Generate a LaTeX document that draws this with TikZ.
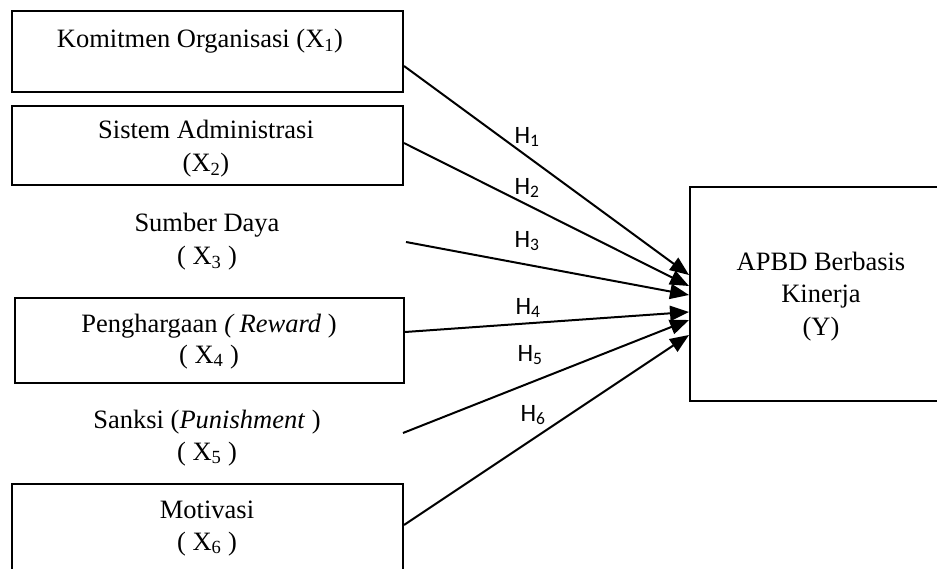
\documentclass[tikz,border=0pt]{standalone}
\usepackage{fontspec}
\setmainfont{Liberation Serif}
\newfontfamily\labfont{Carlito}
\usetikzlibrary{arrows.meta}
\begin{document}
\begin{tikzpicture}[x=1pt,y=-1pt,
  box/.style={draw,line width=2pt,rectangle,inner sep=0pt},
  txt/.style={font=\fontsize{26.5}{30}\selectfont,anchor=base,inner sep=0pt},
  hyp/.style={font=\labfont\fontsize{25}{28}\selectfont,inner sep=0pt},
  link/.style={line width=2pt,-{Triangle[length=19pt,width=15pt]}}]
\useasboundingbox (0,0) rectangle (937,569);
% boxes
\node[box,minimum width=391pt,minimum height=81pt] (b1) at (207.5,51.5) {};
\node[box,minimum width=391pt,minimum height=79pt] (b2) at (207.5,145.5) {};
\node[box,minimum width=389pt,minimum height=85pt] (b4) at (209.5,340.5) {};
\node[box,minimum width=391pt,minimum height=136pt] (b6) at (207.5,552) {};
\node[box,minimum width=270pt,minimum height=214pt] (Y) at (825,294) {};
% texts
\node[txt] (k1) at (200,48) {Komitmen Organisasi (X\textsubscript{1})};
\node[txt] (s1) at (206,139) {Sistem Administrasi};
\node[txt] (s2) at (206,172) {(X\textsubscript{2})};
\node[txt] (d1) at (207,232) {Sumber Daya};
\node[txt] (d2) at (207,265) {( X\textsubscript{3} )};
\node[txt] (p1) at (209,332) {Penghargaan \textit{( Reward} )};
\node[txt] (p2) at (209,363) {( X\textsubscript{4} )};
\node[txt] (n1) at (207,428) {Sanksi (\textit{Punishment} )};
\node[txt] (n2) at (207,460) {( X\textsubscript{5} )};
\node[txt] (m1) at (207,518) {Motivasi};
\node[txt] (m2) at (207,550) {( X\textsubscript{6} )};
\node[txt] (y1) at (821,271) {APBD Berbasis};
\node[txt] (y2) at (821,303) {Kinerja};
\node[txt] (y3) at (821,335) {(Y)};
% free start points
\coordinate (c3) at (406,242);
\coordinate (c5) at (403,433);
% connectors
\draw[link] ([yshift=-14.5pt]b1.east) -- ([yshift=19pt]Y.west);
\draw[link] ([yshift=2.5pt]b2.east) -- ([yshift=8pt]Y.west);
\draw[link] (c3) -- ([yshift=-1pt]Y.west);
\draw[link] ([yshift=8.5pt]b4.east) -- ([yshift=-18pt]Y.west);
\draw[link] (c5) -- ([yshift=-26pt]Y.west);
\draw[link] ([yshift=27pt]b6.east) -- ([yshift=-41pt]Y.west);
% labels
\node[hyp] (h1) at (527,137) {H\textsubscript{1}};
\node[hyp] (h2) at (527,188) {H\textsubscript{2}};
\node[hyp] (h3) at (527,241) {H\textsubscript{3}};
\node[hyp] (h4) at (528,308) {H\textsubscript{4}};
\node[hyp] (h5) at (530,355) {H\textsubscript{5}};
\node[hyp] (h6) at (533,415) {H\textsubscript{6}};
\end{tikzpicture}
\end{document}
